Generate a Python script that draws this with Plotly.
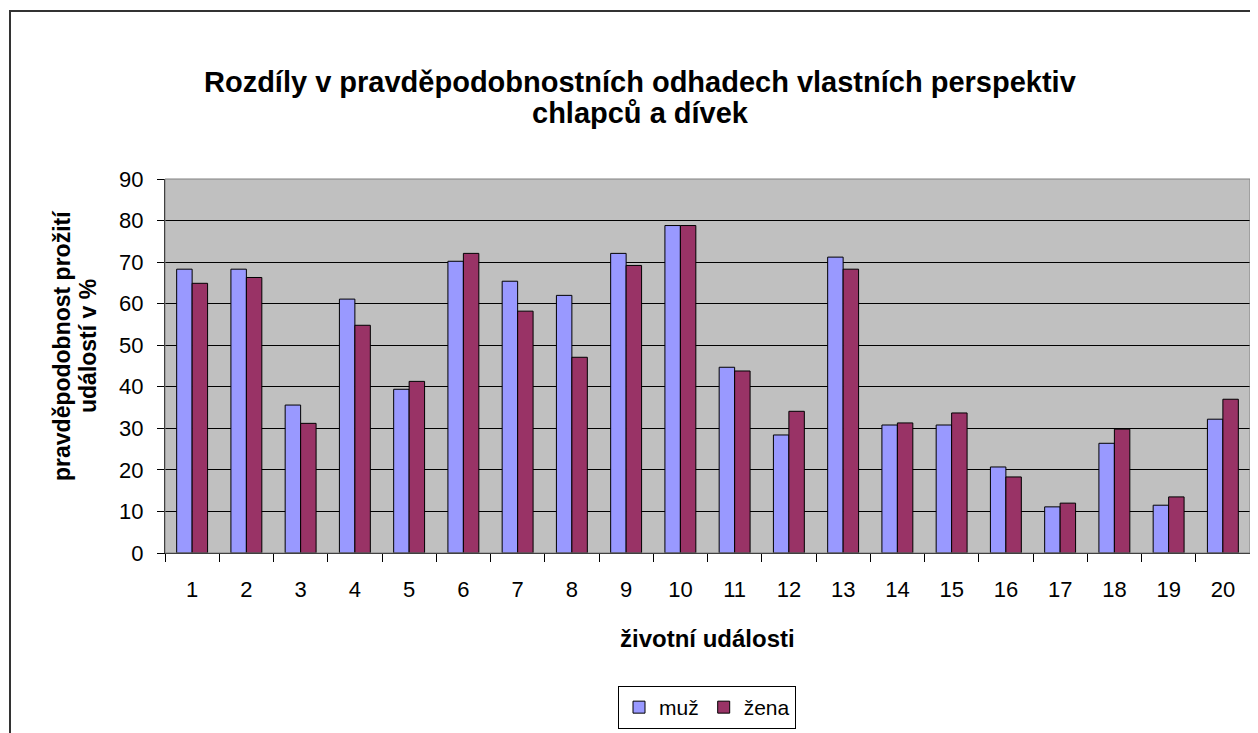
import plotly.graph_objects as go

categories = [str(i) for i in range(1, 21)]
muz = [68.3, 68.3, 35.6, 61.1, 39.4, 70.2, 65.4, 62.0, 72.1, 78.8,
       44.7, 28.4, 71.2, 30.8, 30.8, 20.7, 11.1, 26.4, 11.5, 32.2]
zena = [64.9, 66.3, 31.2, 54.8, 41.3, 72.1, 58.2, 47.1, 69.2, 78.8,
        43.8, 34.1, 68.3, 31.3, 33.7, 18.3, 12.0, 29.8, 13.5, 37.0]
title_lines = ["Rozdíly v pravděpodobnostních odhadech vlastních perspektiv",
               "chlapců a dívek"]
ytitle_lines = ["pravděpodobnost prožití", "událostí v %"]
xtitle = "životní události"

OFF = 8  # page body margin
W, H = 1258 - OFF, 733 - OFF
L, T = 165 - OFF, 179 - OFF
R = W - (1250 - OFF)
B = H - (553 - OFF)
pw, ph = W - L - R, H - T - B


def px2paper_x(p):
    return (p - OFF - L) / pw


def px2paper_y(p):
    return (H - B - (p - OFF)) / ph


fig = go.Figure()
fig.add_trace(go.Bar(x=categories, y=muz, name="muž",
                     marker=dict(color="#9999FF", line=dict(color="#000000", width=1))))
fig.add_trace(go.Bar(x=categories, y=zena, name="žena",
                     marker=dict(color="#993366", line=dict(color="#000000", width=1))))

fig.update_layout(
    width=W, height=H,
    margin=dict(l=L, r=R, t=T, b=B, autoexpand=False),
    paper_bgcolor="white",
    plot_bgcolor="#C0C0C0",
    font=dict(family="Arial, Liberation Sans, sans-serif", size=22, color="black"),
    bargap=0.43, bargroupgap=0,
    xaxis=dict(type="category", ticks="outside", tickson="boundaries", ticklen=8,
               tickcolor="black", showline=True, linecolor="black", linewidth=1,
               showgrid=False, ticklabelstandoff=17),
    yaxis=dict(range=[0, 90], dtick=10, ticks="outside", ticklen=7, tickcolor="black",
               showline=True, linecolor="black", linewidth=1,
               showgrid=True, gridcolor="black", gridwidth=1, zeroline=False,
               ticklabelstandoff=9),
    legend=dict(orientation="h", x=px2paper_x(707), xanchor="center",
                y=px2paper_y(686), yanchor="top",
                bordercolor="black", borderwidth=1, bgcolor="white",
                font=dict(size=21), itemwidth=30, traceorder="normal",
                tracegroupgap=0),
    showlegend=True,
)

annotations = [
    dict(text="<b>%s</b>" % title_lines[0], xref="paper", yref="paper",
         x=px2paper_x(640), y=px2paper_y(82), xanchor="center", yanchor="middle",
         showarrow=False, font=dict(size=29)),
    dict(text="<b>%s</b>" % title_lines[1], xref="paper", yref="paper",
         x=px2paper_x(640), y=px2paper_y(113), xanchor="center", yanchor="middle",
         showarrow=False, font=dict(size=29)),
    dict(text="<b>%s</b>" % ytitle_lines[0], xref="paper", yref="paper",
         x=px2paper_x(62), y=px2paper_y(346), xanchor="center", yanchor="middle",
         textangle=-90, showarrow=False, font=dict(size=23)),
    dict(text="<b>%s</b>" % ytitle_lines[1], xref="paper", yref="paper",
         x=px2paper_x(88), y=px2paper_y(346), xanchor="center", yanchor="middle",
         textangle=-90, showarrow=False, font=dict(size=23)),
    dict(text="<b>%s</b>" % xtitle, xref="paper", yref="paper",
         x=px2paper_x(707), y=px2paper_y(638), xanchor="center", yanchor="middle",
         showarrow=False, font=dict(size=24)),
]
fig.update_layout(annotations=annotations)

shapes = [
    # plot area border (gray)
    dict(type="rect", xref="paper", yref="paper", x0=0, x1=1, y0=0, y1=1,
         line=dict(color="#808080", width=1), fillcolor="rgba(0,0,0,0)", layer="above"),
    # chart outer border
    dict(type="rect", xref="paper", yref="paper",
         x0=px2paper_x(10), x1=px2paper_x(1300), y0=px2paper_y(800), y1=px2paper_y(11),
         line=dict(color="#333333", width=2), fillcolor="rgba(0,0,0,0)"),
]
fig.update_layout(shapes=shapes)

fig.write_html("out.html")
